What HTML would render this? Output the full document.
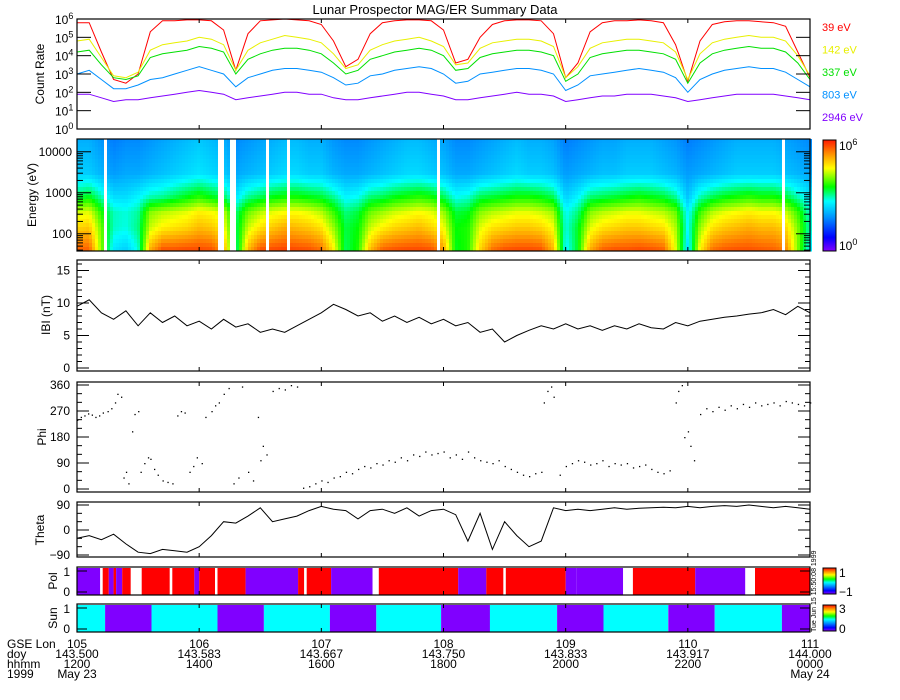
<!DOCTYPE html>
<html><head><meta charset="utf-8"><title>Lunar Prospector MAG/ER Summary Data</title>
<style>
html,body{margin:0;padding:0;background:#fff;}
svg{display:block;font-family:"Liberation Sans",sans-serif;}
</style></head>
<body>
<svg id="chart" width="900" height="700" viewBox="0 0 900 700" xmlns="http://www.w3.org/2000/svg">
<rect width="900" height="700" fill="#fff"/>
<text x="435" y="14" font-size="13" text-anchor="middle">Lunar Prospector MAG/ER Summary Data</text>
<g id="g-spec"></g>
<g id="g-marks"></g>
<g id="g-axes"></g>
</svg>
<script>
// ---- data ----
const lonStart = 105, lonStep = 0.1;
const rate39 = [5.8,5.8,4.2,2.7,2.5,3.0,5.3,5.9,5.9,5.95,5.95,5.9,5.4,3.2,5.2,5.9,5.95,6.0,5.95,5.9,5.7,4.8,3.4,3.8,5.2,5.8,5.9,5.95,5.95,5.9,5.4,3.6,3.8,5.0,5.7,5.9,5.95,5.95,5.9,5.2,2.8,3.6,5.3,5.8,5.9,5.9,5.95,5.9,5.8,4.6,2.6,4.8,5.7,5.85,5.9,5.9,5.85,5.8,5.6,4.2,2.8];
const rate142 = [4.8,4.9,3.9,2.9,2.8,3.1,4.3,4.6,4.7,4.8,5.0,4.9,4.6,3.2,4.3,4.7,4.9,5.1,5.0,4.9,4.7,4.1,3.3,3.5,4.3,4.6,4.8,4.9,5.0,4.8,4.5,3.5,3.6,4.4,4.7,4.8,4.9,4.9,4.8,4.5,2.8,3.4,4.4,4.7,4.8,4.9,4.9,4.8,4.7,4.2,2.7,4.1,4.7,4.9,5.0,5.1,5.0,5.0,4.8,4.0,2.9];
const rate337 = [4.2,4.3,3.5,2.8,2.7,2.9,3.9,4.1,4.2,4.3,4.5,4.4,4.2,3.0,3.8,4.1,4.3,4.4,4.4,4.3,4.1,3.6,3.0,3.2,3.8,4.0,4.2,4.3,4.4,4.3,4.0,3.2,3.3,3.9,4.1,4.2,4.3,4.3,4.2,4.0,2.6,3.0,3.9,4.1,4.2,4.3,4.3,4.2,4.1,3.8,2.5,3.6,4.1,4.3,4.4,4.5,4.4,4.4,4.2,3.6,2.7];
const rate803 = [3.0,3.2,2.7,2.2,2.2,2.4,2.7,2.8,3.0,3.2,3.4,3.2,3.0,2.3,2.8,3.0,3.2,3.3,3.3,3.2,3.1,2.8,2.4,2.5,2.9,3.0,3.2,3.3,3.4,3.3,3.0,2.5,2.6,3.0,3.1,3.2,3.3,3.3,3.2,3.0,2.1,2.4,2.9,3.0,3.1,3.2,3.3,3.2,3.1,2.8,2.0,2.7,3.0,3.2,3.3,3.4,3.3,3.3,3.1,2.7,2.3];
const rate2946 = [1.9,1.9,1.7,1.5,1.6,1.6,1.7,1.8,1.9,2.0,2.1,2.0,1.9,1.6,1.7,1.8,1.9,2.0,2.0,1.9,1.9,1.7,1.6,1.6,1.7,1.8,1.9,2.0,2.0,1.9,1.8,1.6,1.6,1.7,1.8,1.9,2.0,1.9,1.9,1.8,1.5,1.6,1.7,1.8,1.8,1.9,1.9,1.9,1.8,1.7,1.5,1.6,1.7,1.8,1.9,1.9,1.9,1.9,1.8,1.7,1.6];
const channelEnergies = [39,142,337,803,2946];
const channelLabels = ["39 eV","142 eV","337 eV","803 eV","2946 eV"];
const channelColors = ["#ff0000","#e8f000","#00e000","#0090ff","#8000ff"];
const specGaps = [[105.23,105.255],[106.155,106.2],[106.26,106.31],[106.55,106.58],[106.71,106.74],[107.945,107.97],[110.76,110.785]];
const bmag = [9.5,10.5,8.5,7.5,8.8,6.5,8.5,7.0,8.0,6.5,7.2,6.0,7.5,6.3,6.8,5.5,6.0,5.5,6.5,7.5,8.5,9.8,9.0,8.0,8.5,7.2,8.0,7.0,7.8,6.8,7.5,6.5,7.0,5.5,6.0,4.0,5.0,5.8,6.5,6.0,6.8,6.0,6.5,5.8,6.5,6.0,6.8,6.2,6.0,7.0,6.5,7.2,7.5,7.8,8.0,8.3,8.5,9.0,8.2,9.5,8.5];
const theta = [-30,-20,-35,-15,-50,-80,-85,-70,-75,-80,-60,-20,30,25,50,80,30,40,50,70,85,75,70,40,70,75,60,80,50,70,75,55,-40,60,-70,30,-20,-60,-40,80,70,75,70,75,80,75,78,80,82,80,85,80,85,88,85,90,85,80,85,80,75];
const phiLon = [105.0,105.03,105.06,105.09,105.12,105.15,105.18,105.21,105.25,105.28,105.31,105.33,105.36,105.38,105.4,105.42,105.45,105.47,105.5,105.52,105.55,105.58,105.6,105.63,105.66,105.7,105.74,105.78,105.82,105.85,105.88,105.92,105.95,105.98,106.02,106.05,106.1,106.13,106.16,106.2,106.24,106.28,106.32,106.35,106.4,106.44,106.48,106.5,106.52,106.55,106.6,106.65,106.7,106.75,106.8,106.85,106.9,106.95,107.0,107.05,107.1,107.15,107.2,107.25,107.3,107.35,107.4,107.45,107.5,107.55,107.6,107.65,107.7,107.75,107.8,107.85,107.9,107.95,108.0,108.05,108.1,108.15,108.2,108.25,108.3,108.35,108.4,108.45,108.5,108.55,108.6,108.65,108.7,108.75,108.8,108.82,108.85,108.88,108.9,108.95,109.0,109.05,109.1,109.15,109.2,109.25,109.3,109.35,109.4,109.45,109.5,109.55,109.6,109.65,109.7,109.75,109.8,109.85,109.9,109.92,109.95,109.97,110.0,110.02,110.05,110.1,110.15,110.2,110.25,110.3,110.35,110.4,110.45,110.5,110.55,110.6,110.65,110.7,110.75,110.8,110.85,110.9,110.95,111.0];
const phiVal = [240,250,255,262,258,250,255,265,270,280,300,330,320,40,60,20,200,260,270,60,90,110,105,70,50,30,25,20,255,270,265,60,80,110,90,250,270,290,300,330,350,20,40,355,60,30,250,100,150,120,340,350,345,360,355,5,10,20,30,25,40,45,60,55,70,80,75,90,85,100,95,110,100,120,115,130,120,125,130,110,120,105,130,110,100,95,90,100,80,70,60,50,45,55,60,300,340,355,320,50,80,90,100,95,85,90,100,80,90,85,90,75,80,85,70,60,55,65,300,340,360,180,200,150,100,260,280,270,285,275,290,280,295,285,300,290,295,300,290,305,300,295,290,300];
const polSegs = [[105.0,105.19,-1],[105.19,105.21,0],[105.21,105.26,1],[105.26,105.3,-1],[105.3,105.32,1],[105.32,105.37,-1],[105.37,105.44,1],[105.44,105.53,0],[105.53,105.76,1],[105.76,105.78,0],[105.78,105.96,1],[105.96,106.0,-1],[106.0,106.13,1],[106.13,106.15,0],[106.15,106.38,1],[106.38,106.81,-1],[106.81,106.86,1],[106.86,106.88,0],[106.88,107.08,1],[107.08,107.42,-1],[107.42,107.47,0],[107.47,108.12,1],[108.12,108.35,-1],[108.35,108.49,1],[108.49,108.51,0],[108.51,109.0,1],[109.0,109.09,-1],[109.09,109.47,-1],[109.47,109.55,0],[109.55,110.06,1],[110.06,110.47,-1],[110.47,110.55,0],[110.55,111.0,1]];
const sunSegs = [[105.0,105.23,1],[105.23,105.61,0],[105.61,106.15,1],[106.15,106.53,0],[106.53,107.07,1],[107.07,107.45,0],[107.45,107.98,1],[107.98,108.38,0],[108.38,108.93,1],[108.93,109.31,0],[109.31,109.84,1],[109.84,110.22,0],[110.22,110.77,1],[110.77,111.0,0]];
const lonTicks = ["105","106","107","108","109","110","111"];
const doyTicks = ["143.500","143.583","143.667","143.750","143.833","143.917","144.000"];
const hhmmTicks = ["1200","1400","1600","1800","2000","2200","0000"];
const dateTicks = ["May 23","","","","","","May 24"];

// ---- scales ----
const X0=77, X1=810;
const xS = lon => X0 + (lon-105)*(X1-X0)/6;
const yRate = v => 129 - v*110/6;
const ySpec = e => 251 - (Math.log10(e)-Math.log10(38))*41;
const yB = v => 368 - v*6.5;
const yPhi = v => 489 - v*104/360;
const yTh = v => 530 - v*25/90;
const NS="http://www.w3.org/2000/svg";
function mk(tag, attrs, parent){const e=document.createElementNS(NS,tag);for(const k in attrs)e.setAttribute(k,attrs[k]);parent.appendChild(e);return e;}
const gM=document.getElementById('g-marks'), gA=document.getElementById('g-axes'), gS=document.getElementById('g-spec');
function lonAt(i){return lonStart+i*lonStep;}
function interpArr(arr, lon){let f=(lon-lonStart)/lonStep;let i=Math.max(0,Math.min(arr.length-2,Math.floor(f)));let t=f-i;return arr[i]*(1-t)+arr[i+1]*t;}
function line(arr, ys, color, name){
  let d=arr.map((v,i)=>(i?'L':'M')+xS(lonAt(i)).toFixed(1)+','+ys(v).toFixed(1)).join('');
  const p=mk('path',{d:d,fill:'none',stroke:color,'stroke-width':1},gM);
  
  
}
// colormap
const stops=[[0,[128,0,255]],[0.12,[0,0,255]],[0.3,[0,144,255]],[0.45,[0,255,255]],[0.58,[0,255,0]],[0.75,[255,255,0]],[0.88,[255,144,0]],[1,[255,32,0]]];
function cmap(f){f=Math.max(0,Math.min(1,f));for(let i=1;i<stops.length;i++){if(f<=stops[i][0]){const a=stops[i-1],b=stops[i];const t=(f-a[0])/(b[0]-a[0]);const c=a[1].map((v,k)=>Math.round(v+(b[1][k]-v)*t));return 'rgb('+c.join(',')+')';}}return 'rgb(255,32,0)';}

// ---- panel 1: count rates ----
const rateSeries=[rate39,rate142,rate337,rate803,rate2946];
rateSeries.forEach((s,k)=>line(s,yRate,channelColors[k],'count-rate-'+channelEnergies[k]+'ev'));
channelLabels.forEach((t,k)=>{const el=mk('text',{x:822,y:31+k*22.5,'font-size':11,fill:channelColors[k]},gA);el.textContent=t;

});

// ---- panel 2: spectrogram ----
const logE=channelEnergies.map(Math.log10);
function specVal(lon, le){
  const v=rateSeries.map(s=>interpArr(s,lon));
  const off=-0.2+0.6*Math.min(1,Math.max(0,(le-logE[0])/(logE[4]-logE[0])));
  if(le<=logE[0]){const sl=(v[1]-v[0])/(logE[1]-logE[0]);return v[0]+sl*(le-logE[0])*0.5+off;}
  if(le>=logE[4]){return v[4]+off-0.3*(le-logE[4]);}
  for(let i=0;i<4;i++){if(le<=logE[i+1]){const t=(le-logE[i])/(logE[i+1]-logE[i]);return v[i]*(1-t)+v[i+1]*t+off;}}
}
const nRows=28, colW=3;
for(let x=X0;x<X1;x+=colW){
  const lon=105+(x+colW/2-X0)*6/(X1-X0);
  if(specGaps.some(g=>lon>=g[0]&&lon<=g[1]))continue;
  for(let r=0;r<nRows;r++){
    const y0=139+r*112/nRows;
    const eMid=Math.pow(10,Math.log10(38)+(251-(y0+2))/41);
    const v=specVal(lon,Math.log10(eMid));
    mk('rect',{x:x,y:y0.toFixed(1),width:colW,height:(112/nRows+0.5).toFixed(1),fill:cmap(v/6)},gS);
  }
}
// colorbars
function colorbar(x,y,w,h,name){const g=mk('g',{},gA);
  for(let i=0;i<h;i++)mk('rect',{x:x,y:y+h-1-i,width:w,height:1.2,fill:cmap(i/(h-1))},g);
  mk('rect',{x:x,y:y,width:w,height:h,fill:'none',stroke:'#000'},g);}
colorbar(823,140,13,111,'energy-colorbar');
colorbar(823,568,13,26,'pol-colorbar');
colorbar(823,605,13,26,'sun-colorbar');
function txt(x,y,t,size,anchor,name,extra){const e=mk('text',Object.assign({x:x,y:y,'font-size':size,'text-anchor':anchor||'start'},extra||{}),gA);e.textContent=t;
  
  return e;}
function pow10(x,y,exp,name){const e=txt(x,y,'10',12,'start',name);const s=mk('tspan',{dy:-5,'font-size':9},e);s.textContent=exp;}
pow10(839,150,'6','colorbar-max');pow10(839,250,'0','colorbar-min');
txt(839,577,'1',12,'start','pol-cbar-max');txt(839,596,'\u22121',12,'start','pol-cbar-min');
txt(839,613,'3',12,'start','sun-cbar-max');txt(839,633,'0',12,'start','sun-cbar-min');

// ---- panel 3: |B| ----
line(bmag,yB,'#000','bmag-line');
// ---- panel 4: Phi ----
phiLon.forEach((l,i)=>{const c=mk('rect',{x:xS(l).toFixed(1),y:yPhi(phiVal[i]).toFixed(1),width:1.3,height:1.3,fill:'#000'},gM);

});
// ---- panel 5: Theta ----
line(theta,yTh,'#000','theta-line');
// ---- panels 6,7 ----
const polColor={'1':'#ff0000','-1':'#8000ff','0':'#ffffff'};
polSegs.forEach(s=>{const r=mk('rect',{x:xS(s[0]).toFixed(1),y:568,width:(xS(s[1])-xS(s[0])).toFixed(1),height:27,fill:polColor[String(s[2])]},gM);

});
sunSegs.forEach(s=>{const r=mk('rect',{x:xS(s[0]).toFixed(1),y:605,width:(xS(s[1])-xS(s[0])).toFixed(1),height:27,fill:s[2]?'#00ffff':'#8000ff'},gM);

});

// ---- axes frames ----
const panels=[[19,129,'count-rate-panel'],[139,251,'energy-panel'],[260,371,'bmag-panel'],[382,492,'phi-panel'],[502,557,'theta-panel'],[567,595,'pol-panel'],[604,632,'sun-panel']];
panels.forEach(p=>{const r=mk('rect',{x:X0,y:p[0],width:X1-X0,height:p[1]-p[0],fill:'none',stroke:'#000','stroke-width':1.2},gA);

lonTicks.forEach((t,i)=>{const x=xS(105+i);mk('line',{x1:x,x2:x,y1:p[0],y2:p[0]+4,stroke:'#000'},gA);mk('line',{x1:x,x2:x,y1:p[1],y2:p[1]-4,stroke:'#000'},gA);});});
function ytick(y,len){mk('line',{x1:X0,x2:X0+len,y1:y,y2:y,stroke:'#000'},gA);mk('line',{x1:X1,x2:X1-len,y1:y,y2:y,stroke:'#000'},gA);}
// count rate ticks
for(let e=0;e<=6;e++){ytick(yRate(e),14);pow10(55,yRate(e)+5,String(e),'rate-tick-'+e);}
// energy ticks
[100,1000,10000].forEach(e=>{ytick(ySpec(e),14);txt(72,ySpec(e)+4,String(e),12,'end','energy-tick-'+e);});
for(let d=1;d<4;d++)for(let m=2;m<10;m++){const e=m*Math.pow(10,d);if(e>38&&e<20700)ytick(ySpec(e),6);}
// B ticks
for(let v=0;v<=16;v++)ytick(yB(v),v%5==0?12:5);
[0,5,10,15].forEach(v=>txt(70,yB(v)+4,String(v),12,'end','bmag-tick-'+v));
for(let v=0;v<=360;v+=30)ytick(yPhi(v),v%90==0?12:5);
[0,90,180,270,360].forEach(v=>txt(70,yPhi(v)+4,String(v),12,'end','phi-tick-'+v));
for(let v=-90;v<=90;v+=30)ytick(yTh(v),v%90==0?12:5);
[-90,0,90].forEach(v=>txt(70,yTh(v)+4,v<0?'\u221290':String(v),12,'end','theta-tick-'+v));
ytick(571,10);ytick(592,10);txt(70,576,'1',12,'end','pol-tick-1');txt(70,596,'0',12,'end','pol-tick-0');
ytick(608,10);ytick(629,10);txt(70,613,'1',12,'end','sun-tick-1');txt(70,633,'0',12,'end','sun-tick-0');
// y titles
[[44,74,'Count Rate'],[36,195,'Energy (eV)'],[50,315,'IBI (nT)'],[46,437,'Phi'],[44,530,'Theta'],[57,581,'Pol'],[57,618,'Sun']].forEach(t=>{
  txt(t[0],t[1],t[2],12,'middle','y-title-'+t[2].toLowerCase().replace(/[^a-z]+/g,'-'),{transform:'rotate(-90 '+t[0]+' '+t[1]+')'});});
// x labels
txt(7,648,'GSE Lon',12,'start','row-label-lon');txt(7,658,'doy',12,'start','row-label-doy');
txt(7,668,'hhmm',12,'start','row-label-hhmm');txt(7,678,'1999',12,'start','row-label-year');
lonTicks.forEach((t,i)=>{const x=xS(105+i);
  txt(x,648,t,12,'middle','lon-tick-'+t);txt(x,658,doyTicks[i],12,'middle','doy-tick-'+i);
  txt(x,668,hhmmTicks[i],12,'middle','hhmm-tick-'+i);if(dateTicks[i])txt(x,678,dateTicks[i],12,'middle','date-tick-'+i);});
txt(816,632,'Tue Jun 15 15:50:08 1999',7,'start','timestamp',{transform:'rotate(-90 816 632)'});
</script>
</body></html>
